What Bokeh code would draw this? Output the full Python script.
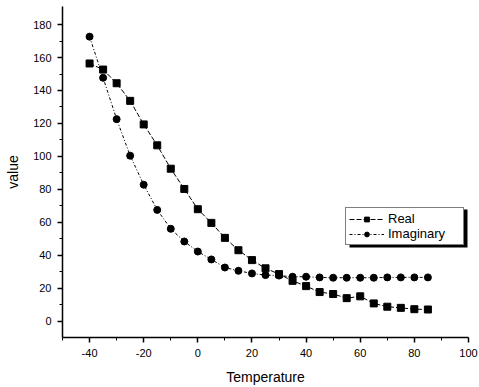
from bokeh.plotting import figure
from bokeh.models import (Range1d, FixedTicker, Legend, LegendItem, BoxAnnotation)
from bokeh.embed import file_html
from bokeh.resources import INLINE

temperature = [-40, -35, -30, -25, -20, -15, -10, -5, 0, 5, 10, 15, 20,
               25, 30, 35, 40, 45, 50, 55, 60, 65, 70, 75, 80, 85]
real = [156.4, 152.7, 144.4, 133.7, 119.4, 106.7, 92.5, 80.2, 67.9, 59.6, 50.5,
        43.0, 37.0, 32.0, 28.5, 24.4, 21.2, 17.6, 16.4, 13.9, 15.0, 10.7, 8.7,
        8.0, 7.2, 7.0]
imaginary = [172.7, 147.7, 122.6, 100.4, 82.8, 67.5, 56.0, 48.3, 42.2, 37.4,
             32.5, 30.5, 28.9, 27.9, 27.6, 26.9, 26.9, 26.5, 26.3, 26.3, 26.3,
             26.3, 26.5, 26.5, 26.5, 26.5]

x_ticks = [-40, -20, 0, 20, 40, 60, 80, 100]
x_tick_labels = ["-40", "-20", "0", "20", "40", "60", "80", "100"]
x_minor = [-50, -30, -10, 10, 30, 50, 70, 90]
y_ticks = [0, 20, 40, 60, 80, 100, 120, 140, 160, 180]
y_tick_labels = ["0", "20", "40", "60", "80", "100", "120", "140", "160", "180"]
y_minor = [10, 30, 50, 70, 90, 110, 130, 150, 170]
series_names = ["Real", "Imaginary"]

FONT = "Liberation Sans"

p = figure(width=479, height=387, output_backend="svg", toolbar_location=None,
           x_range=Range1d(-50, 100), y_range=Range1d(-10, 191),
           min_border_left=62, min_border_right=11, min_border_top=6,
           min_border_bottom=49)
p.outline_line_color = None
p.grid.grid_line_color = None
p.background_fill_color = "white"
p.border_fill_color = "white"

r1l = p.line(temperature, real, line_color="black", line_width=1, line_dash="5 2")
r1m = p.scatter(temperature, real, marker="square", size=7, color="black")
r2l = p.line(temperature, imaginary, line_color="black", line_width=1, line_dash="3 2 1 2")
r2m = p.scatter(temperature, imaginary, marker="circle", size=7, color="black")

for ax in (p.xaxis[0], p.yaxis[0]):
    ax.axis_line_color = "black"
    ax.axis_line_width = 1.5
    ax.major_tick_line_color = "black"
    ax.major_tick_line_width = 1.5
    ax.minor_tick_line_color = "black"
    ax.minor_tick_line_width = 1
    ax.major_tick_in = 0
    ax.major_tick_out = 5
    ax.minor_tick_in = 0
    ax.minor_tick_out = 3
    ax.major_label_text_font = FONT
    ax.major_label_text_font_size = "11px"
    ax.major_label_text_color = "black"
    ax.axis_label_text_font = FONT
    ax.axis_label_text_font_size = "14px"
    ax.axis_label_text_font_style = "normal"
    ax.axis_label_text_color = "black"

p.xaxis.ticker = FixedTicker(ticks=x_ticks, minor_ticks=x_minor)
p.yaxis.ticker = FixedTicker(ticks=y_ticks, minor_ticks=y_minor)
p.xaxis.major_label_overrides = dict(zip(x_ticks, x_tick_labels))
p.yaxis.major_label_overrides = dict(zip(y_ticks, y_tick_labels))
p.xaxis.axis_label = "Temperature"
p.yaxis.axis_label = "value"
p.xaxis.major_label_standoff = 6
p.xaxis.axis_label_standoff = 9
p.yaxis.major_label_standoff = 6
p.yaxis.axis_label_standoff = 9

# drop shadow behind the legend box (screen units relative to the frame)
shadow = BoxAnnotation(left=287, right=405, bottom=90, top=128,
                       left_units="screen", right_units="screen",
                       bottom_units="screen", top_units="screen",
                       fill_color="black", fill_alpha=1.0, line_color=None,
                       level="underlay")
p.add_layout(shadow)

legend_style = dict(padding=3, spacing=0, margin=0, label_height=12,
                    glyph_height=12, glyph_width=35, label_standoff=4,
                    label_width=72, label_text_font=FONT,
                    label_text_font_size="13px", border_line_width=1)

legend = Legend(items=[LegendItem(label=series_names[0], renderers=[r1l, r1m]),
                       LegendItem(label=series_names[1], renderers=[r2l, r2m])],
                location=(283, 92), label_text_color="black",
                border_line_color="black", background_fill_color="white",
                background_fill_alpha=1.0, **legend_style)
p.add_layout(legend)

open("out.html", "w").write(file_html(p, INLINE))
